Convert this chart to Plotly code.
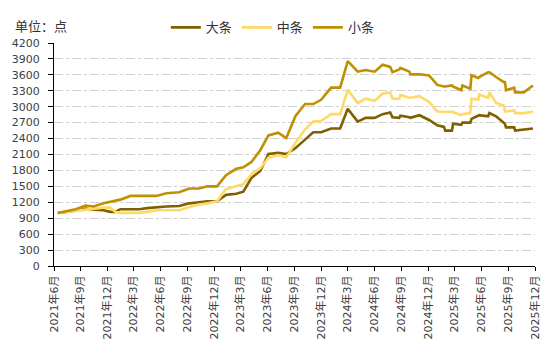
import plotly.graph_objects as go

dates = [
    "2021-06-14", "2021-08-14", "2021-09-17", "2021-10-14", "2021-11-17", "2021-12-10", "2021-12-27",
    "2022-01-14", "2022-02-17", "2022-03-20", "2022-04-14", "2022-05-17", "2022-06-20", "2022-08-03",
    "2022-09-07", "2022-10-10", "2022-11-07", "2022-12-10", "2023-01-10", "2023-02-14", "2023-03-10",
    "2023-04-07", "2023-05-07", "2023-06-04", "2023-07-07", "2023-08-04", "2023-09-04", "2023-10-07",
    "2023-11-04", "2023-12-01", "2024-01-04", "2024-02-04", "2024-03-01", "2024-04-04", "2024-05-01",
    "2024-06-01", "2024-06-28", "2024-07-24", "2024-08-01", "2024-08-24", "2024-08-28", "2024-09-28",
    "2024-10-01", "2024-11-01", "2024-12-04", "2025-01-01", "2025-01-24", "2025-01-28", "2025-02-20",
    "2025-02-24", "2025-03-24", "2025-03-28", "2025-04-24", "2025-04-28", "2025-05-21", "2025-05-24",
    "2025-06-24", "2025-06-28", "2025-07-21", "2025-08-17", "2025-08-20", "2025-08-24", "2025-09-21",
    "2025-09-24", "2025-10-24", "2025-11-24",
]

large = [
    1000, 1040, 1080, 1060, 1050, 1020, 1020,
    1070, 1070, 1070, 1090, 1110, 1120, 1130,
    1180, 1200, 1220, 1220, 1340, 1360, 1400,
    1660, 1790, 2110, 2130, 2110, 2220, 2380,
    2520, 2520, 2590, 2590, 2960, 2720, 2790,
    2790, 2860, 2890, 2800, 2790, 2830, 2800,
    2790, 2840, 2750, 2650, 2620, 2550, 2550,
    2680, 2660, 2700, 2700, 2770, 2830, 2840,
    2820, 2880, 2820, 2700, 2680, 2610, 2610,
    2550, 2570, 2590,
]

medium = [
    1000, 1040, 1070, 1090, 1100, 1100, 1020,
    1000, 1000, 1000, 1020, 1050, 1050, 1050,
    1110, 1160, 1180, 1220, 1450, 1500, 1540,
    1730, 1840, 2040, 2090, 2050, 2320, 2570,
    2720, 2730, 2860, 2860, 3320, 3070, 3150,
    3110, 3250, 3270, 3150, 3150, 3220, 3170,
    3170, 3200, 3090, 2910, 2910, 2910, 2910,
    2900, 2840, 2860, 2880, 3150, 3130, 3230,
    3170, 3270, 3070, 3020, 2910, 2910, 2930,
    2880, 2880, 2910,
]

small = [
    1000, 1070, 1140, 1120, 1180, 1210, 1230,
    1250, 1320, 1320, 1320, 1320, 1370, 1390,
    1460, 1460, 1500, 1500, 1710, 1830, 1860,
    1960, 2180, 2460, 2510, 2410, 2820, 3050,
    3050, 3130, 3360, 3360, 3860, 3660, 3690,
    3660, 3790, 3750, 3650, 3700, 3730, 3660,
    3610, 3610, 3590, 3410, 3380, 3380, 3400,
    3380, 3310, 3400, 3340, 3590, 3540, 3560,
    3650, 3650, 3560, 3460, 3480, 3310, 3360,
    3270, 3270, 3400,
]

tick_dates = [
    "2021-06-01", "2021-09-01", "2021-12-01", "2022-03-01", "2022-06-01", "2022-09-01", "2022-12-01",
    "2023-03-01", "2023-06-01", "2023-09-01", "2023-12-01", "2024-03-01", "2024-06-01", "2024-09-01",
    "2024-12-01", "2025-03-01", "2025-06-01", "2025-09-01", "2025-12-01",
]
tick_labels = [
    "2021年6月", "2021年9月", "2021年12月", "2022年3月", "2022年6月", "2022年9月", "2022年12月",
    "2023年3月", "2023年6月", "2023年9月", "2023年12月", "2024年3月", "2024年6月", "2024年9月",
    "2024年12月", "2025年3月", "2025年6月", "2025年9月", "2025年12月",
]

y_ticks = list(range(0, 4201, 300))

series = [
    ("大条", large, "#7F6000"),
    ("中条", medium, "#FFD966"),
    ("小条", small, "#BF9000"),
]

fig = go.Figure()
for name, vals, color in series:
    fig.add_trace(go.Scatter(
        x=dates, y=vals, name=name, mode="lines",
        line=dict(color=color, width=2.6),
    ))

fig.update_layout(
    width=554, height=351,
    margin=dict(l=53, r=14, t=35, b=81),
    paper_bgcolor="white", plot_bgcolor="white",
    font=dict(family="DejaVu Sans, Noto Sans CJK SC", size=11, color="#404040"),
    showlegend=True,
    legend=dict(
        orientation="h", x=0.455, xanchor="center", y=1.07, yanchor="middle",
        font=dict(family="Noto Sans CJK SC", size=13, color="#333333"),
        itemwidth=30, tracegroupgap=0,
    ),
    annotations=[dict(
        text="单位：点", xref="paper", yref="paper", x=-0.085, y=1.077,
        xanchor="left", yanchor="middle", showarrow=False,
        font=dict(family="Noto Sans CJK SC", size=13, color="#333333"),
    )],
)

fig.update_xaxes(
    type="date",
    range=["2021-06-01", "2025-12-01"],
    tickmode="array", tickvals=tick_dates, ticktext=tick_labels,
    tickangle=-90, ticks="outside", ticklen=4, tickcolor="black",
    showline=True, linecolor="black", linewidth=1,
    showgrid=False, zeroline=False,
    tickfont=dict(family="DejaVu Sans, Noto Sans CJK SC", size=11, color="#404040"),
)
fig.update_yaxes(
    range=[0, 4200],
    tickmode="array", tickvals=y_ticks,
    ticks="outside", ticklen=5, tickcolor="black",
    showline=True, linecolor="black", linewidth=1,
    showgrid=True, gridcolor="#D0D0D0", griddash="dashdot", gridwidth=1,
    zeroline=False, ticklabelstandoff=6,
    tickfont=dict(family="DejaVu Sans", size=11, color="#404040"),
)

fig.write_html("out.html")
